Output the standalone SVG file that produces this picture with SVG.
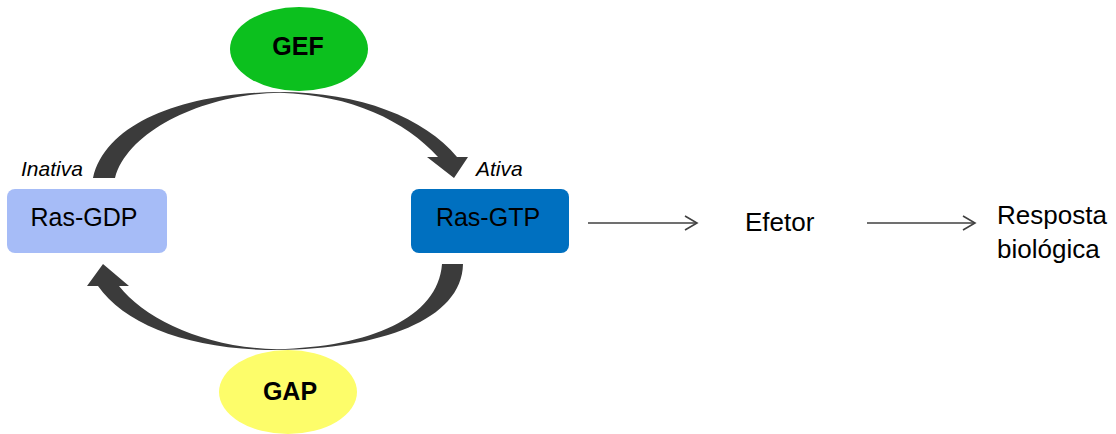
<svg xmlns="http://www.w3.org/2000/svg" width="1116" height="434" viewBox="0 0 1116 434">
  <style>
    .lbl { font-family: "Liberation Sans", Arial, sans-serif; fill: #000; }
    .box { font-size: 25px; text-anchor: middle; }
    .enz { font-size: 25px; font-weight: bold; text-anchor: middle; }
    .state { font-size: 21px; font-style: italic; }
    .plain { font-size: 26px; }
    .curve { fill: #3b3b3b; }
    .thin { stroke: #404040; stroke-width: 1.6; fill: none; marker-end: url(#chev); }
  </style>
  <defs>
    <marker id="chev" markerUnits="userSpaceOnUse" markerWidth="16" markerHeight="18" refX="13" refY="8" orient="auto">
      <path d="M1,1 L13,8 L1,15" fill="none" stroke="#404040" stroke-width="1.6"/>
    </marker>
  </defs>
  <rect width="1116" height="434" fill="#ffffff"/>

  <g id="connectors">
    <path id="gef-arrow" class="curve" d="M 93,178 C 106,122 185,93 280,92 C 360,92 425,118 457,157 L 468,157 L 454,178 L 427,157 L 438,157 C 405,121 352,95 280,92.8 C 205,94 128,130 115,178 Z"/>
    <path id="gap-arrow" class="curve" d="M 463,264 C 462,320 380,349 277,350 C 190,350 125,325 98,286 L 87,286 L 103,264 L 129,286 L 119,286 C 145,319 205,348 277,349.2 C 370,347 438,318 442,264 Z"/>
    <line class="thin" x1="588" y1="223" x2="697" y2="223"/>
    <line class="thin" x1="867" y1="223" x2="975" y2="223"/>
  </g>

  <g id="gef">
    <ellipse cx="299" cy="49" rx="69" ry="42" fill="#0cc01e"/>
    <text class="lbl enz" x="298" y="55">GEF</text>
  </g>
  <g id="gap">
    <ellipse cx="288" cy="392" rx="69" ry="42" fill="#fdfd6a"/>
    <text class="lbl enz" x="290" y="400">GAP</text>
  </g>
  <g id="ras-gdp">
    <rect x="7" y="189" width="160" height="64" rx="8" fill="#a6bcf7"/>
    <text class="lbl box" x="84" y="226">Ras-GDP</text>
    <text class="lbl state" x="21" y="176">Inativa</text>
  </g>
  <g id="ras-gtp">
    <rect x="411" y="189" width="158" height="64" rx="8" fill="#0070c0"/>
    <text class="lbl box" x="488" y="226">Ras-GTP</text>
    <text class="lbl state" x="476" y="176">Ativa</text>
  </g>
  <g id="efetor">
    <text class="lbl plain" x="745" y="231">Efetor</text>
  </g>
  <g id="resposta">
    <text class="lbl plain" x="997" y="224">Resposta</text>
    <text class="lbl plain" x="997" y="258">biológica</text>
  </g>
</svg>
